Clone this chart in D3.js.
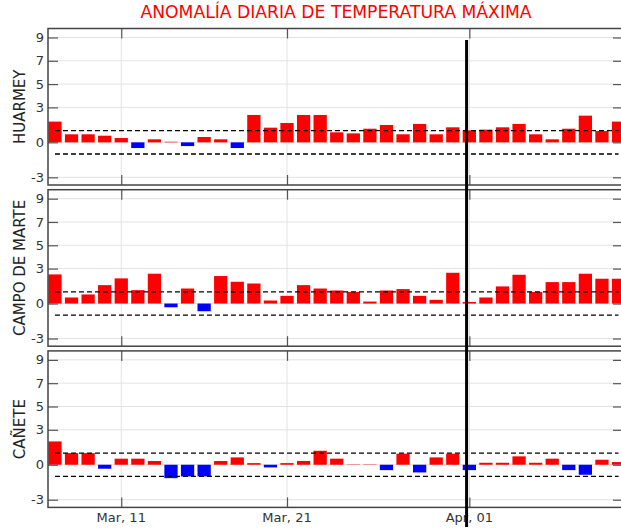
<!DOCTYPE html>
<html>
<head>
<meta charset="utf-8">
<script src="https://cdn.jsdelivr.net/npm/d3@7"></script>
<style>
  body { margin: 0; background: #fff; }
  text { font-family: "DejaVu Sans", sans-serif; }
</style>
</head>
<body>
<svg id="chart" width="621" height="530"></svg>
<script>
//////////////////// DATA ////////////////////
const startDay = Date.UTC(2024, 2, 7);   // Mar 07
const stations = ["HUARMEY", "CAMPO DE MARTE", "CAÑETE"];

const huarmey = [1.78, 0.69, 0.69, 0.57, 0.37, -0.49, 0.26, 0.05, -0.32, 0.46, 0.26, -0.49,
    2.35, 1.26, 1.66, 2.35, 2.35, 0.86, 0.77, 1.17, 1.49, 0.69, 1.58, 0.69, 1.29,
    1.03, 1.09, 1.29, 1.58, 0.69, 0.26, 1.17, 2.29, 0.97, 1.78];
const campoDeMarte = [2.5, 0.52, 0.78, 1.58, 2.16, 1.15, 2.56, -0.32, 1.29, -0.66, 2.36, 1.87,
    1.72, 0.26, 0.66, 1.58, 1.29, 1.12, 1.0, 0.17, 1.12, 1.24, 0.66, 0.32, 2.64,
    0.14, 0.52, 1.47, 2.47, 1.0, 1.84, 1.84, 2.56, 2.13, 2.13];
const canete = [2.0, 1.0, 1.0, -0.34, 0.52, 0.52, 0.32, -1.15, -1.0, -1.0, 0.32, 0.63,
    0.14, -0.23, 0.14, 0.32, 1.2, 0.52, 0.03, 0.03, -0.46, 0.95, -0.66, 0.63, 0.95,
    -0.46, 0.17, 0.17, 0.72, 0.17, 0.52, -0.46, -0.86, 0.43, 0.23];
const seriesValues = [huarmey, campoDeMarte, canete];

const yTicks = [9, 7, 5, 3, 0, -3];
const xTicks = [Date.UTC(2024, 2, 11), Date.UTC(2024, 2, 21), Date.UTC(2024, 3, 1)];
const threshold = 1;                                   // dashed +/- lines
const markDate = Date.UTC(2024, 2, 31, 20);            // thick black line

const DAY = 86400000;
const dates = huarmey.map((d, i) => new Date(startDay + i * DAY));

//////////////////// SIZES ////////////////////
const svg = d3.select("#chart");
const margin = { left: 48, right: 623 };
const panelTop = 28.5, panelPitch = 161.2, panelHeight = 156.5;

//////////////////// SCALES ////////////////////
const x = d3.scaleUtc()
    .domain([new Date(startDay - 0.42 * DAY), new Date(startDay + 34.27 * DAY)])
    .range([margin.left, margin.right]);
const barWidth = 0.8 * (x(new Date(startDay + DAY)) - x(new Date(startDay)));

//////////////////// TITLE ////////////////////
svg.append("text")
    .attr("x", 336)
    .attr("y", 18)
    .attr("text-anchor", "middle")
    .attr("fill", "#ff0000")
    .attr("font-size", 17.2)
    .text("ANOMALÍA DIARIA DE TEMPERATURA MÁXIMA");

//////////////////// PANELS ////////////////////
stations.forEach((name, p) => {
    const top = panelTop + p * panelPitch;
    const bottom = top + panelHeight;
    const values = seriesValues[p];

    const y = d3.scaleLinear()
        .domain([-3.66, 9.77])
        .range([bottom, top]);

    const g = svg.append("g");

    // grid
    g.selectAll(".hgrid").data(yTicks).enter().append("line")
        .attr("x1", margin.left).attr("x2", margin.right)
        .attr("y1", d => y(d)).attr("y2", d => y(d))
        .attr("stroke", "#e3e3e3").attr("stroke-width", 1);
    g.selectAll(".vgrid").data(xTicks).enter().append("line")
        .attr("x1", d => x(d)).attr("x2", d => x(d))
        .attr("y1", top).attr("y2", bottom)
        .attr("stroke", "#e3e3e3").attr("stroke-width", 1);

    // bars
    g.selectAll(".bar").data(values).enter().append("rect")
        .attr("x", (d, i) => x(dates[i]) - barWidth / 2)
        .attr("width", barWidth)
        .attr("y", d => y(Math.max(0, d)))
        .attr("height", d => Math.abs(y(d) - y(0)))
        .attr("fill", d => d >= 0 ? "#ff0000" : "#0000ff");

    // dashed threshold lines
    g.selectAll(".thr").data([threshold, -threshold]).enter().append("line")
        .attr("x1", x(dates[0])).attr("x2", x(dates[dates.length - 1]))
        .attr("y1", d => y(d)).attr("y2", d => y(d))
        .attr("stroke", "#000").attr("stroke-width", 1.3)
        .attr("stroke-dasharray", "5,3");

    // axes with inward ticks
    const yLeft = d3.axisRight(y).tickValues(yTicks).tickSize(10).tickFormat("");
    const yRight = d3.axisLeft(y).tickValues(yTicks).tickSize(10).tickFormat("");
    const xTop = d3.axisBottom(x).tickValues(xTicks.map(d => new Date(d))).tickSize(10).tickFormat("");
    const xBottom = d3.axisTop(x).tickValues(xTicks.map(d => new Date(d))).tickSize(10).tickFormat("");

    [[yLeft, `translate(${margin.left},0)`], [yRight, `translate(${margin.right},0)`],
     [xTop, `translate(0,${top})`], [xBottom, `translate(0,${bottom})`]].forEach(([ax, tr]) => {
        const a = g.append("g").attr("transform", tr).call(ax);
        a.select(".domain").remove();
        a.selectAll(".tick line").attr("stroke", "#555").attr("stroke-width", 1.2);
    });

    // y tick labels
    g.selectAll(".ylab").data(yTicks).enter().append("text")
        .attr("x", 44)
        .attr("y", d => y(d))
        .attr("dy", "0.35em")
        .attr("text-anchor", "end")
        .attr("font-size", 13)
        .attr("fill", "#333")
        .text(d => d);

    // frame
    g.append("rect")
        .attr("x", margin.left).attr("y", top)
        .attr("width", margin.right - margin.left).attr("height", panelHeight)
        .attr("fill", "none").attr("stroke", "#444").attr("stroke-width", 1.5);

    // station label
    g.append("text")
        .attr("transform", `translate(20,${(top + bottom) / 2}) rotate(-90)`)
        .attr("dy", "0.35em")
        .attr("text-anchor", "middle")
        .attr("font-size", 15)
        .attr("fill", "#222")
        .text(name);

    // date labels under the last panel
    if (p === stations.length - 1) {
        g.selectAll(".xlab").data(xTicks).enter().append("text")
            .attr("x", d => x(d))
            .attr("y", bottom + 15)
            .attr("text-anchor", "middle")
            .attr("font-size", 13)
            .attr("fill", "#333")
            .text(d => d3.utcFormat("%b, %d")(new Date(d)));
    }
});

//////////////////// MARK LINE ////////////////////
svg.append("line")
    .attr("x1", x(markDate)).attr("x2", x(markDate))
    .attr("y1", 40).attr("y2", 527)
    .attr("stroke", "#000").attr("stroke-width", 3);
</script>
</body>
</html>
